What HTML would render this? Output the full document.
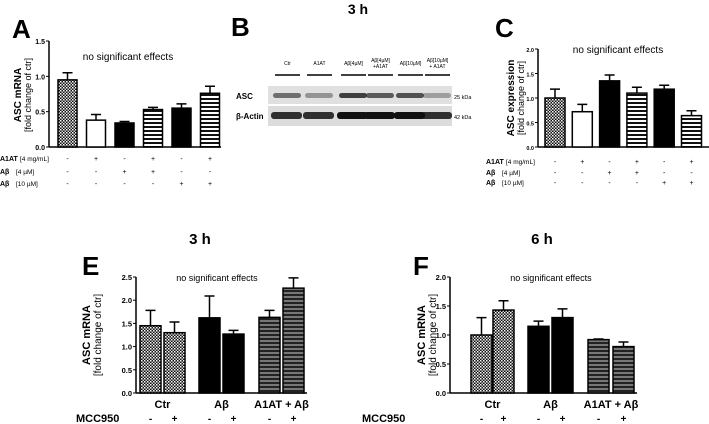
<!DOCTYPE html>
<html><head><meta charset="utf-8"><style>
html,body{margin:0;padding:0;background:#fff;width:709px;height:424px;overflow:hidden}
svg text{font-family:"Liberation Sans",sans-serif;fill:#000}
</style></head><body>
<svg id="fig" width="709" height="424" viewBox="0 0 709 424" xmlns="http://www.w3.org/2000/svg">
<defs>
<pattern id="chk" width="3" height="3" patternUnits="userSpaceOnUse"><rect width="3" height="3" fill="#111"/><rect x="0" y="0" width="1.5" height="1.5" fill="#fff"/><rect x="1.5" y="1.5" width="1.5" height="1.5" fill="#ccc"/></pattern>
<pattern id="strW" width="4" height="4" patternUnits="userSpaceOnUse"><rect width="4" height="4" fill="#fff"/><rect y="2" width="4" height="2" fill="#111"/></pattern>
<pattern id="strG" width="4" height="4" patternUnits="userSpaceOnUse"><rect width="4" height="4" fill="#777"/><rect y="2" width="4" height="2" fill="#222"/></pattern>
</defs>
<g id="panelA"></g>
<g id="panelB"></g>
<g id="panelC"></g>
<g id="panelE"></g>
<g id="panelF"></g>
</svg>
<script>
const NS="http://www.w3.org/2000/svg";
// Panel A data
const aValues=[0.95,0.38,0.34,0.53,0.55,0.76];
const aErrors=[0.10,0.08,0.02,0.03,0.06,0.10];
const aTicks=[0,0.5,1.0,1.5];
const aFills=["url(#chk)","#fff","#000","url(#strW)","#000","url(#strW)"];
// Panel C data
const cValues=[1.0,0.72,1.35,1.10,1.18,0.64];
const cErrors=[0.18,0.15,0.12,0.12,0.08,0.10];
const cTicks=[0,0.5,1.0,1.5,2.0];
// Panel E data
const eValues=[1.45,1.30,1.62,1.27,1.63,2.26];
const eErrors=[0.33,0.23,0.47,0.08,0.15,0.22];
const eTicks=[0,0.5,1.0,1.5,2.0,2.5];
// Panel F data
const fValues=[1.0,1.43,1.15,1.30,0.92,0.80];
const fErrors=[0.30,0.16,0.09,0.15,0.01,0.08];
const fTicks=[0,0.5,1.0,1.5,2.0];
const efFills=["url(#chk)","url(#chk)","#000","#000","url(#strG)","url(#strG)"];
const efGroups=["Ctr","Aβ","A1AT + Aβ"];
const mccSigns=["-","+","-","+","-","+"];
const rowA1AT=["-","+","-","+","-","+"];
const rowAb4=["-","-","+","+","-","-"];
const rowAb10=["-","-","-","-","+","+"];

function el(tag,attrs,parent,txt){const e=document.createElementNS(NS,tag);for(const k in attrs)e.setAttribute(k,attrs[k]);if(txt!==undefined)e.textContent=txt;parent.appendChild(e);return e;}

function chart(g,o){
  const y=v=>o.y0-(v/o.ymax)*(o.y0-o.y1);
  el("line",{x1:o.ax,y1:o.y1,x2:o.ax,y2:o.y0,stroke:"#000","stroke-width":1.5},g);
  el("line",{x1:o.ax,y1:o.y0,x2:o.axEnd,y2:o.y0,stroke:"#000","stroke-width":1.5},g);
  o.ticks.forEach(t=>{
    el("line",{x1:o.ax-3,y1:y(t),x2:o.ax,y2:y(t),stroke:"#000","stroke-width":1},g);
    const tl=el("text",{x:o.ax-4,y:y(t)+3,"text-anchor":"end","font-size":o.tfs,"font-weight":"bold"},g,t.toFixed(1));
    
    
  });
  o.values.forEach((v,i)=>{
    const x=o.bx[i];
    const r=el("rect",{x:x,y:y(v),width:o.bw,height:o.y0-y(v),fill:o.fills[i],stroke:"#000","stroke-width":1.5},g);
    
    
    const cx=x+o.bw/2,top=y(v+o.errors[i]);
    const e=el("path",{d:`M${cx},${y(v)}V${top}M${cx-5},${top}H${cx+5}`,stroke:"#000","stroke-width":1.5,fill:"none"},g);
    
    
  });
  const yt=el("text",{transform:`translate(${o.ytx},${o.ytc}) rotate(-90)`,"text-anchor":"middle","font-size":o.yfs,"font-weight":"bold"},g,o.ytitle);
  
  
  const ys=el("text",{transform:`translate(${o.ytx+(o.ysd||11)},${o.ytc}) rotate(-90)`,"text-anchor":"middle","font-size":o.yfs-1},g,"[fold change of ctr]");
  
  
  const ns=el("text",{x:o.nsx,y:o.nsy,"text-anchor":"middle","font-size":o.nsfs},g,"no significant effects");
  
  
  const L=el("text",{x:o.lx,y:o.ly,"font-size":26,"font-weight":"bold"},g,o.letter);
  
  
}
function rows(g,o){
  const names=[["A1AT","[4 mg/mL]"],["Aβ","[4 µM]"],["Aβ","[10 µM]"]];
  [rowA1AT,rowAb4,rowAb10].forEach((row,r)=>{
    const yy=o.ry[r];
    const t=el("text",{x:o.lx,y:yy,"font-size":7,"font-weight":"bold"},g,names[r][0]);
    
    
    el("text",{x:o.lx+(r==0?20:16),y:yy,"font-size":6.5},g,names[r][1]);
    row.forEach((s,i)=>{el("text",{x:o.bx[i]+o.bw/2,y:yy,"text-anchor":"middle","font-size":7},g,s);});
  });
}
function spaced(x0,step,n){const a=[];for(let i=0;i<n;i++)a.push(x0+i*step);return a;}

// Panel A
const gA=document.getElementById("panelA");
const aBx=spaced(58,28.5,6);
chart(gA,{ax:49,axEnd:221,y0:147,y1:41,ymax:1.5,ticks:aTicks,values:aValues,errors:aErrors,fills:aFills,bx:aBx,bw:19,tfs:7,yfs:10,ytitle:"ASC mRNA",ytx:21,ytc:95,ysd:10,nsx:128,nsy:60,nsfs:10,letter:"A",lx:12,ly:38});
rows(gA,{lx:0,ry:[161,174,186],bx:aBx,bw:19});

// Panel C
const gC=document.getElementById("panelC");
const cBx=spaced(545,27.3,6);
chart(gC,{ax:538,axEnd:709,y0:147,y1:49,ymax:2.0,ticks:cTicks,values:cValues,errors:cErrors,fills:aFills,bx:cBx,bw:20,tfs:5.5,yfs:10,ytitle:"ASC expression",ytx:514,ytc:98,ysd:10,nsx:618,nsy:53,nsfs:10,letter:"C",lx:495,ly:37});
rows(gC,{lx:486,ry:[164,175,185],bx:cBx,bw:20});

// Panel E & F
function efPanel(g,vals,errs,ticks,ymax,ax,bx,letter,lx,ytx,nsx,hx,hlabel,mccx){
  chart(g,{ax:ax,axEnd:bx[5]+24,y0:393,y1:277,ymax:ymax,ticks:ticks,values:vals,errors:errs,fills:efFills,bx:bx,bw:21,tfs:7.5,yfs:11,ytitle:"ASC mRNA",ytx:ytx,ytc:335,nsx:nsx,nsy:281,nsfs:9,letter:letter,lx:lx,ly:275});
  efGroups.forEach((gname,k)=>{
    const t=el("text",{x:(bx[2*k]+bx[2*k+1]+21)/2,y:408,"text-anchor":"middle","font-size":11,"font-weight":"bold"},g,gname);
    
    
  });
  const m=el("text",{x:mccx,y:422,"font-size":11,"font-weight":"bold"},g,"MCC950");
  
  
  mccSigns.forEach((s,i)=>{el("text",{x:bx[i]+10.5,y:422,"text-anchor":"middle","font-size":10,"font-weight":"bold"},g,s);});
  const h=el("text",{x:hx,y:244,"text-anchor":"middle","font-size":15,"font-weight":"bold"},g,hlabel);
  
  
}
efPanel(document.getElementById("panelE"),eValues,eErrors,eTicks,2.5,136,[140,164,199,223,259,283],"E",82,90,217,200,"3 h",76);
efPanel(document.getElementById("panelF"),fValues,fErrors,fTicks,2.0,450,[471,493,528,552,588,613],"F",413,425,551,542,"6 h",362);

// Panel B
const gB=document.getElementById("panelB");
const t3=el("text",{x:358,y:14,"text-anchor":"middle","font-size":14,"font-weight":"bold"},gB,"3 h");


const lb=el("text",{x:231,y:36,"font-size":26,"font-weight":"bold"},gB,"B");


const lanes=[["Ctr"],["A1AT"],["Aβ[4µM]"],["Aβ[4µM]","+A1AT"],["Aβ[10µM]"],["Aβ[10µM]","+ A1AT"]];
const laneX=[275,307,341,368,398,425];
const asc=[0.6,0.4,0.85,0.7,0.75,0.35];
const act=[0.85,0.85,1,1,1,0.85];
el("rect",{x:268,y:86,width:184,height:18,fill:"#e0e0e0"},gB);
el("rect",{x:268,y:106,width:184,height:20,fill:"#dcdcdc"},gB);
lanes.forEach((l,i)=>{
  const cx=laneX[i]+12.5;
  l.forEach((s,j)=>el("text",{x:cx,y:65+j*6-(l.length-1)*3,"text-anchor":"middle","font-size":5},gB,s));
  el("line",{x1:laneX[i],y1:75,x2:laneX[i]+25,y2:75,stroke:"#000","stroke-width":1.5},gB);
  el("rect",{x:laneX[i]-2,y:93,width:28,height:5,rx:2.5,fill:"#222",opacity:asc[i]},gB);
  el("rect",{x:laneX[i]-4,y:112,width:31,height:7,rx:3,fill:"#111",opacity:act[i]},gB);
});
el("text",{x:236,y:99,"font-size":8,"font-weight":"bold"},gB,"ASC");
el("text",{x:236,y:119,"font-size":8,"font-weight":"bold"},gB,"β-Actin");
el("text",{x:454,y:99,"font-size":5.5},gB,"25 kDa");
el("text",{x:454,y:119,"font-size":5.5},gB,"42 kDa");
</script>
</body></html>
